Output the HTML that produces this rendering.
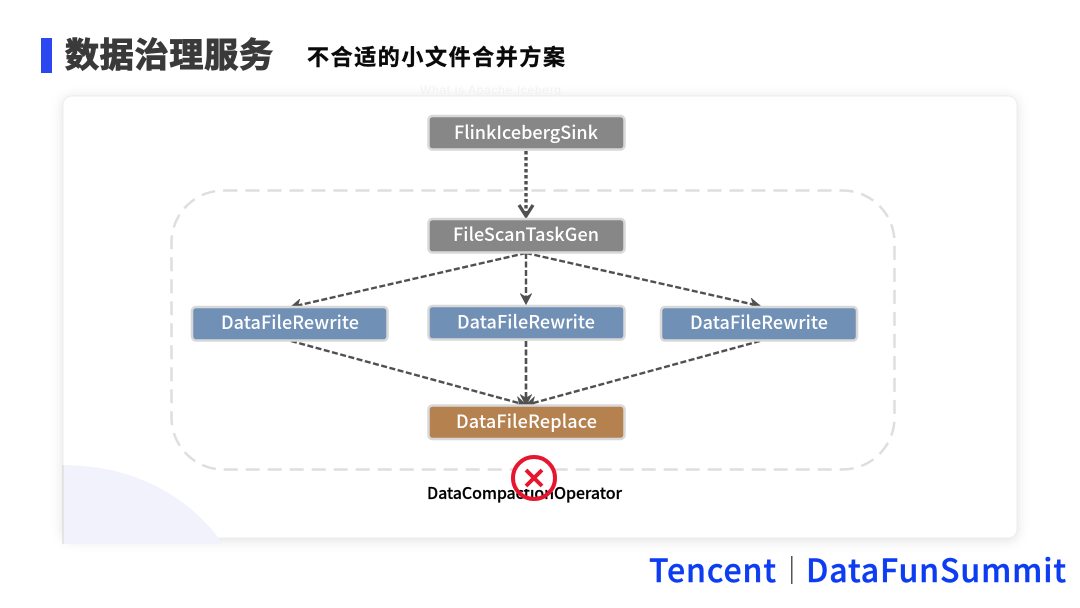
<!DOCTYPE html>
<html><head><meta charset="utf-8"><style>
html,body{margin:0;padding:0;background:#fff;width:1080px;height:608px;overflow:hidden}
svg{display:block;filter:blur(.3px)}
text{font-family:"Noto Sans CJK SC","Liberation Sans",sans-serif}
</style></head><body>
<svg width="1080" height="608" viewBox="0 0 1080 608" xmlns="http://www.w3.org/2000/svg">
<defs>
<filter id="s" x="-5%" y="-5%" width="110%" height="110%"><feDropShadow dx="0" dy="2" stdDeviation="6" flood-color="#000" flood-opacity="0.12"/></filter>
<marker id="a" viewBox="0 0 10 10" refX="9" refY="5" markerWidth="12" markerHeight="12" markerUnits="userSpaceOnUse" orient="auto"><path d="M1 0.8L9 5L1 9.2L3.500 5Z" fill="#505050" stroke="#505050" stroke-width="1"/></marker>
</defs>
<rect x="41" y="38" width="11" height="35" fill="#2b47f0"/>
<text x="65" y="67" font-size="34" font-weight="700" fill="#3a3a3a" stroke="#3a3a3a" stroke-width="1.100" textLength="208">数据治理服务</text>
<text x="307" y="65" font-size="22" font-weight="700" fill="#0a0a0a" stroke="#0a0a0a" stroke-width="0.400" textLength="258">不合适的小文件合并方案</text>
<rect x="63" y="96" width="954" height="442" rx="9" fill="#fff" stroke="#ececec" stroke-width="1" filter="url(#s)"/>
<text x="420" y="94" font-size="12" fill="#f1f1f1" style="font-family:'Liberation Sans',sans-serif" textLength="141">What is Apache Iceberg</text>
<path d="M63 465C131 465 188 494 223 544H63Z" fill="#f2f2fd"/>
<path d="M63 465V544" stroke="#d4d4d8" stroke-width="1"/>
<rect x="171.500" y="190.500" width="723" height="279" rx="52" fill="none" stroke="#dedede" stroke-width="2.500" stroke-dasharray="14 8"/>

<g fill="none" stroke="#505050" stroke-width="2.400" stroke-dasharray="6 2.500">
<path d="M526 151V215" stroke-width="3.400" stroke-dasharray="3.500 2.500"/>
<path d="M526 253L291 307" marker-end="url(#a)"/>
<path d="M526 253V304" marker-end="url(#a)"/>
<path d="M526 253L760 306" marker-end="url(#a)"/>
<path d="M291 341L526 405" marker-end="url(#a)"/>
<path d="M526 341V405" stroke-width="2.600" marker-end="url(#a)"/>
<path d="M760 341L526 405" marker-end="url(#a)"/>
</g>
<path d="M519 205L526 216L533 205" fill="none" stroke="#505050" stroke-width="3.400"/>

<g stroke="#d8d8d8" stroke-width="2.500">
<rect x="428.500" y="116" width="196" height="33.500" rx="4" fill="#878787"/>
<rect x="428.500" y="219" width="196" height="33.500" rx="4" fill="#878787"/>
<rect x="192" y="307" width="195.500" height="33.500" rx="4" fill="#7190b5"/>
<rect x="428.500" y="306" width="196" height="33.500" rx="4" fill="#7190b5"/>
<rect x="661" y="307" width="196" height="33.500" rx="4" fill="#7190b5"/>
<rect x="428.500" y="405.500" width="196" height="33.500" rx="4" fill="#b5814f"/>
</g>
<g font-size="18" font-weight="500" fill="#fff" text-anchor="middle">
<text x="526" y="139" textLength="144">FlinkIcebergSink</text>
<text x="526" y="241" textLength="146">FileScanTaskGen</text>
<text x="290" y="329" textLength="138">DataFileRewrite</text>
<text x="526" y="328.500" textLength="138">DataFileRewrite</text>
<text x="759" y="329" textLength="138">DataFileRewrite</text>
<text x="526.500" y="428" textLength="141">DataFileReplace</text>
</g>
<text x="427" y="499" font-size="16" font-weight="500" fill="#000" stroke="#000" stroke-width="0.200" textLength="195">DataCompactionOperator</text>
<rect x="515" y="459" width="38" height="30" fill="#fff"/>
<circle cx="534" cy="478" r="21" fill="none" stroke="#e8152e" stroke-width="4"/>
<path d="M526 470L542 486M542 470L526 486" stroke="#e8152e" stroke-width="4"/>

<g font-size="32" font-weight="500" fill="#0d3df2" stroke="#0d3df2" stroke-width="0.400">
<text x="649" y="582" textLength="127">Tencent</text>
<text x="806" y="582" textLength="260">DataFunSummit</text>
</g>
<rect x="791" y="556" width="1.500" height="28" fill="#555"/>
</svg>
</body></html>
